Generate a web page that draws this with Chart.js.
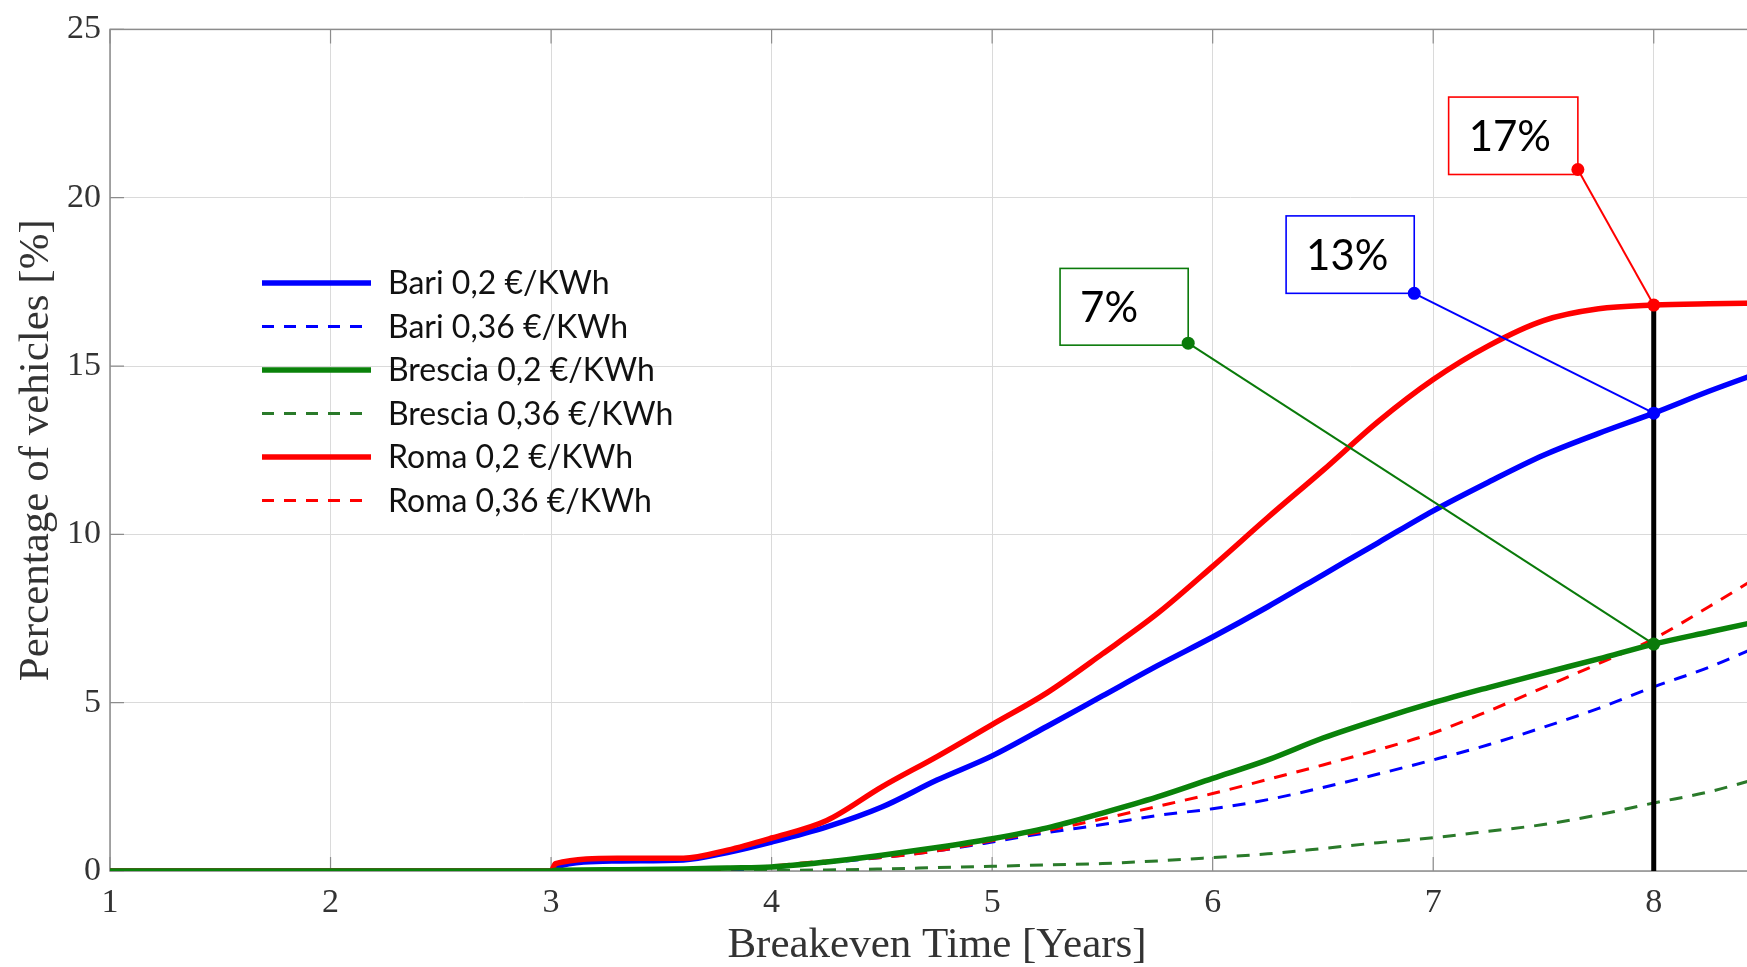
<!DOCTYPE html>
<html>
<head>
<meta charset="utf-8">
<script src="https://cdn.jsdelivr.net/npm/chart.js@4"></script>
<style>
  html, body { margin: 0; padding: 0; background: #fff; overflow: hidden; }
  #wrap { width: 1747px; height: 967px; overflow: hidden; }
</style>
</head>
<body>
<div id="wrap"><canvas id="chart" width="1770" height="967"></canvas></div>
<script>
// breakeven time [years]
const years = [1, 2, 3, 3.02, 3.3, 3.6, 3.8, 4, 4.25, 4.5, 4.75, 5, 5.25, 5.5, 5.75, 6, 6.25, 6.5, 6.75, 7, 7.25, 7.5, 7.75, 8, 8.25, 8.5];

// percentage of vehicles [%]
const bari02 = [0, 0, 0, 0.12, 0.3, 0.33, 0.55, 0.86, 1.31, 1.9, 2.7, 3.42, 4.3, 5.2, 6.1, 6.95, 7.85, 8.8, 9.75, 10.7, 11.55, 12.35, 13.0, 13.6, 14.25, 14.85];
const bari036 = [0, 0, 0, 0, 0, 0, 0.04, 0.1, 0.25, 0.4, 0.6, 0.86, 1.14, 1.38, 1.65, 1.85, 2.12, 2.48, 2.88, 3.3, 3.75, 4.27, 4.83, 5.47, 6.05, 6.75];
const brescia02 = [0, 0, 0, 0.02, 0.04, 0.06, 0.09, 0.12, 0.27, 0.47, 0.7, 0.96, 1.28, 1.72, 2.2, 2.75, 3.3, 3.95, 4.5, 5.0, 5.45, 5.88, 6.3, 6.74, 7.1, 7.45];
const brescia036 = [0, 0, 0, 0, 0, 0, 0.01, 0.02, 0.03, 0.06, 0.1, 0.14, 0.18, 0.22, 0.3, 0.4, 0.51, 0.67, 0.84, 0.99, 1.18, 1.38, 1.67, 2.02, 2.35, 2.8];
const roma02 = [0, 0, 0, 0.22, 0.38, 0.38, 0.62, 0.98, 1.5, 2.5, 3.4, 4.35, 5.3, 6.45, 7.65, 9.05, 10.5, 11.9, 13.35, 14.6, 15.6, 16.35, 16.7, 16.81, 16.85, 16.87];
const roma036 = [0, 0, 0, 0, 0, 0, 0.05, 0.15, 0.3, 0.4, 0.6, 0.9, 1.2, 1.55, 1.92, 2.3, 2.72, 3.15, 3.6, 4.1, 4.75, 5.45, 6.16, 6.9, 7.85, 8.85];

const seriesLabels = ['Bari 0,2 €/KWh', 'Bari 0,36 €/KWh', 'Brescia 0,2 €/KWh', 'Brescia 0,36 €/KWh', 'Roma 0,2 €/KWh', 'Roma 0,36 €/KWh'];

const xTicks = [1, 2, 3, 4, 5, 6, 7, 8];
const yTicks = [0, 5, 10, 15, 20, 25];

// marked year and the callouts that point at it
const markerYear = 8;
const calloutLabels = ['17%', '13%', '7%'];
const calloutSeries = [roma02, bari02, brescia02];

const BLUE = '#0000ff', GREEN = '#0a820a', DGREEN = '#2a7a2a', RED = '#ff0000';

const toXY = arr => arr.map((v, i) => ({ x: years[i], y: v }));

function solid(label, arr, color, order) {
  return { label, data: toXY(arr), borderColor: color, backgroundColor: color, borderWidth: 5.5, pointRadius: 0, cubicInterpolationMode: 'monotone', order };
}
function dashed(label, arr, color, order) {
  return { label, data: toXY(arr), borderColor: color, backgroundColor: color, borderWidth: 3, borderDash: [13, 10], pointRadius: 0, cubicInterpolationMode: 'monotone', order, dashed: true };
}

const datasets = [
  solid(seriesLabels[0], bari02, BLUE, 2),
  dashed(seriesLabels[1], bari036, BLUE, 4),
  solid(seriesLabels[2], brescia02, GREEN, 0),
  dashed(seriesLabels[3], brescia036, DGREEN, 5),
  solid(seriesLabels[4], roma02, RED, 1),
  dashed(seriesLabels[5], roma036, RED, 3)
];

// axes box with inward ticks, drawn under the data
const boxPlugin = {
  id: 'box',
  beforeDatasetsDraw(chart) {
    const { ctx, chartArea: a, scales: { x, y } } = chart;
    ctx.save();
    ctx.strokeStyle = '#8c8c8c';
    ctx.lineWidth = 1.5;
    ctx.strokeRect(a.left, a.top, a.right - a.left, a.bottom - a.top);
    ctx.lineWidth = 1.2;
    ctx.beginPath();
    yTicks.forEach(t => {
      const py = y.getPixelForValue(t);
      ctx.moveTo(a.left, py); ctx.lineTo(a.left + 14, py);
    });
    xTicks.forEach(t => {
      const px = x.getPixelForValue(t);
      ctx.moveTo(px, a.top); ctx.lineTo(px, a.top + 14);
      ctx.moveTo(px, a.bottom); ctx.lineTo(px, a.bottom - 14);
    });
    ctx.stroke();
    ctx.restore();
  }
};

// legend inside the plot
const legendPlugin = {
  id: 'innerLegend',
  afterDatasetsDraw(chart) {
    const { ctx } = chart;
    const x0 = 262, x1 = 371, tx = 388, top = 283, step = 43.5;
    ctx.save();
    ctx.font = '32px Lato, "Open Sans", sans-serif';
    ctx.textBaseline = 'middle';
    chart.data.datasets.forEach((ds, i) => {
      const yy = top + i * step;
      ctx.strokeStyle = ds.borderColor;
      ctx.lineWidth = ds.dashed ? 3 : 5.5;
      ctx.setLineDash(ds.dashed ? [12, 10] : []);
      ctx.beginPath(); ctx.moveTo(x0, yy); ctx.lineTo(x1, yy); ctx.stroke();
      ctx.setLineDash([]);
      ctx.fillStyle = '#111';
      ctx.fillText(ds.label, tx, yy + 1);
    });
    ctx.restore();
  }
};

// vertical marker at year 8 and the three callouts
const calloutPlugin = {
  id: 'callouts',
  afterDatasetsDraw(chart, args, opts) {
    const { ctx, scales: { x, y } } = chart;
    const idx = years.indexOf(markerYear);
    const mx = x.getPixelForValue(markerYear);
    ctx.save();
    ctx.strokeStyle = '#000';
    ctx.lineWidth = 5;
    ctx.beginPath();
    ctx.moveTo(mx, y.getPixelForValue(0));
    ctx.lineTo(mx, y.getPixelForValue(roma02[idx]));
    ctx.stroke();

    opts.boxes.forEach((b, i) => {
      const color = [RED, BLUE, '#0a7a0a'][i];
      const l = x.getPixelForValue(b.x0), r = x.getPixelForValue(b.x1);
      const t = y.getPixelForValue(b.y1), btm = y.getPixelForValue(b.y0);
      ctx.fillStyle = '#fff';
      ctx.fillRect(l, t, r - l, btm - t);
      ctx.strokeStyle = color;
      ctx.lineWidth = 1.6;
      ctx.strokeRect(l, t, r - l, btm - t);
      ctx.fillStyle = '#000';
      ctx.font = '42px Lato, "Open Sans", sans-serif';
      ctx.textBaseline = 'middle';
      ctx.fillText(calloutLabels[i], l + 20, (t + btm) / 2 + 2);

      const ax = r, ay = btm - b.lift;
      const px = mx, py = y.getPixelForValue(calloutSeries[i][idx]);
      ctx.strokeStyle = color;
      ctx.lineWidth = 2;
      ctx.beginPath(); ctx.moveTo(ax, ay); ctx.lineTo(px, py); ctx.stroke();
      ctx.fillStyle = color;
      [[ax, ay], [px, py]].forEach(([cx, cy]) => {
        ctx.beginPath(); ctx.arc(cx, cy, 6.5, 0, Math.PI * 2); ctx.fill();
      });
    });
    ctx.restore();
  }
};

const serif = '"Liberation Serif", "Times New Roman", serif';

new Chart(document.getElementById('chart').getContext('2d'), {
  type: 'line',
  data: { datasets },
  options: {
    responsive: false,
    animation: false,
    layout: { padding: { top: 24, right: 6, left: 0, bottom: 0 } },
    plugins: {
      legend: { display: false },
      tooltip: { enabled: false },
      callouts: {
        boxes: [
          { x0: 7.07, x1: 7.656, y0: 20.69, y1: 22.99, lift: 5 },
          { x0: 6.333, x1: 6.914, y0: 17.16, y1: 19.46, lift: 0 },
          { x0: 5.308, x1: 5.889, y0: 15.62, y1: 17.9, lift: 2 }
        ]
      }
    },
    scales: {
      x: {
        type: 'linear',
        min: 1,
        max: 8.5,
        afterFit: s => { s.height = 96; },
        afterBuildTicks: s => { s.ticks = xTicks.map(v => ({ value: v })); },
        grid: { color: '#dadada', lineWidth: 1, drawTicks: false },
        border: { display: false },
        ticks: { color: '#333', padding: 12, font: { family: serif, size: 34 } },
        title: { display: true, text: 'Breakeven Time [Years]', color: '#333', padding: { top: 0, bottom: 0 }, font: { family: serif, size: 43, lineHeight: 1 } }
      },
      y: {
        min: 0,
        max: 25,
        afterFit: s => { s.width = 110; },
        afterBuildTicks: s => { s.ticks = yTicks.map(v => ({ value: v })); },
        grid: { color: '#dadada', lineWidth: 1, drawTicks: false },
        border: { display: false },
        ticks: { color: '#333', padding: 9, font: { family: serif, size: 34 } },
        title: { display: true, text: 'Percentage of vehicles [%]', color: '#333', padding: { top: 15, bottom: 0 }, font: { family: serif, size: 43, lineHeight: 1 } }
      }
    }
  },
  plugins: [boxPlugin, calloutPlugin, legendPlugin]
});
</script>
</body>
</html>
